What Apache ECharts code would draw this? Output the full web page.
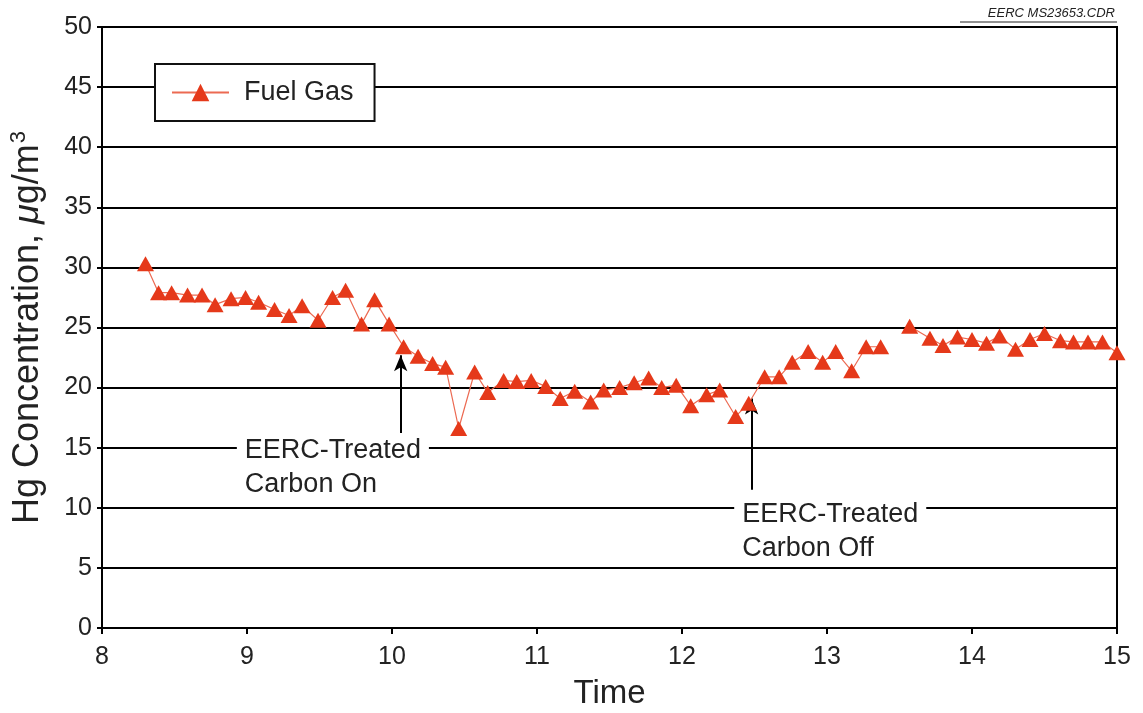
<!DOCTYPE html>
<html><head><meta charset="utf-8">
<script src="https://cdn.jsdelivr.net/npm/echarts@6/dist/echarts.min.js"></script>
<style>html,body{margin:0;padding:0;background:#fff}#c{width:1143px;height:713px}</style>
</head><body><div id="c"></div>
<script>
const timeValues = [8.30,8.39,8.48,8.59,8.69,8.78,8.89,8.99,9.08,9.19,9.29,9.38,9.49,9.59,9.68,9.79,9.88,9.98,
  10.08,10.18,10.28,10.37,10.46,10.57,10.66,10.77,10.86,10.96,11.06,11.16,11.26,11.37,11.46,11.57,11.67,11.77,11.86,11.96,
  12.06,12.17,12.26,12.37,12.46,12.57,12.67,12.76,12.87,12.97,13.06,13.17,13.27,13.37,13.47,
  13.57,13.71,13.80,13.90,14.00,14.10,14.19,14.30,14.40,14.50,14.61,14.70,14.80,14.90,15.00];
const fuelGas = [30.3,27.9,27.9,27.7,27.7,26.9,27.4,27.5,27.1,26.5,26.0,26.8,25.6,27.5,28.1,25.3,27.3,25.3,
  23.4,22.6,22.0,21.7,16.6,21.3,19.6,20.6,20.5,20.6,20.1,19.1,19.7,18.8,19.8,20.0,20.4,20.8,20.0,20.2,
  18.5,19.4,19.8,17.6,18.7,20.9,20.9,22.1,23.0,22.1,23.0,21.4,23.4,23.4,null,
  25.1,24.1,23.5,24.2,24.0,23.7,24.3,23.2,24.0,24.5,23.9,23.8,23.8,23.8,22.9];
const yTicks = [0,5,10,15,20,25,30,35,40,45,50];
const xTicks = [8,9,10,11,12,13,14,15];
const annotations = [
  {text: 'EERC-Treated\nCarbon On', arrowX: 10.06, arrowFrom: 16.1, arrowTo: 22.7, textX: 8.93, textY: 14.8},
  {text: 'EERC-Treated\nCarbon Off', arrowX: 12.48, arrowFrom: 11.5, arrowTo: 19.1, textX: 12.36, textY: 9.4}
];

const FONT = 'Liberation Sans, Arial, Helvetica, sans-serif';
const RED = '#e5391a';
const chart = echarts.init(document.getElementById('c'));
const pts = timeValues.map((t, i) => [t, fuelGas[i]]);

const option = {
  animation: false,
  backgroundColor: '#fff',
  grid: {left: 102, right: 26, top: 27, bottom: 85, containLabel: false, outerBoundsMode: 'none',
    show: true, borderColor: '#000', borderWidth: 2, backgroundColor: 'transparent'},
  legend: {
    left: 155, top: 64,
    padding: [15, 21, 15, 16],
    backgroundColor: '#fff', borderColor: '#111', borderWidth: 2,
    itemWidth: 57, itemHeight: 22, itemGap: 10,
    textStyle: {fontFamily: FONT, fontSize: 27, color: '#222', padding: [0, 0, 0, 10]},
    data: ['Fuel Gas']
  },
  xAxis: {
    type: 'value', min: 8, max: 15, interval: 1,
    name: 'Time', nameLocation: 'middle', nameGap: 49,
    nameTextStyle: {fontFamily: FONT, fontSize: 33, color: '#222'},
    axisLine: {show: true, lineStyle: {color: '#000', width: 2}},
    axisTick: {show: true, inside: false, length: 6, lineStyle: {color: '#000', width: 2}},
    axisLabel: {fontFamily: FONT, fontSize: 25, color: '#222', margin: 17},
    splitLine: {show: false}
  },
  yAxis: {
    type: 'value', min: 0, max: 50, interval: 5,
    name: '{a|Hg Concentration, }{mu|μ}{a|g/m}{sup|3}', nameLocation: 'middle', nameGap: 54,
    nameTextStyle: {
      fontFamily: FONT, fontSize: 36, color: '#222',
      rich: {
        a: {fontFamily: FONT, fontSize: 36, color: '#222'},
        mu: {fontFamily: FONT, fontSize: 36, color: '#222', fontStyle: 'italic'},
        sup: {fontFamily: FONT, fontSize: 22, color: '#222', padding: [0, 0, 18, 1]}
      }
    },
    axisLine: {show: true, lineStyle: {color: '#000', width: 2}},
    axisTick: {show: true, inside: false, length: 5, lineStyle: {color: '#000', width: 2}},
    axisLabel: {fontFamily: FONT, fontSize: 25, color: '#222', margin: 10},
    splitLine: {show: true, lineStyle: {color: '#000', width: 2}}
  },
  series: [{
    name: 'Fuel Gas', type: 'line', data: pts, connectNulls: false,
    symbol: 'triangle', symbolSize: [17, 15],
    itemStyle: {color: RED, borderColor: RED, borderWidth: 0},
    lineStyle: {color: '#ec6a52', width: 1.2},
    z: 5,
    markLine: {
      silent: true, symbol: ['none', 'arrow'], symbolSize: [10, 16],
      label: {show: false},
      lineStyle: {color: '#000', width: 2, type: 'solid'},
      data: annotations.map(a => [{coord: [a.arrowX, a.arrowFrom]}, {coord: [a.arrowX, a.arrowTo]}])
    }
  }]
};
chart.setOption(option);

const g = [];
annotations.forEach(a => {
  const p = chart.convertToPixel({gridIndex: 0}, [a.textX, a.textY]);
  g.push({
    type: 'text', left: p[0], top: p[1] - 17, z: 10,
    style: {text: a.text, fontFamily: FONT, fontSize: 27, fill: '#222', lineHeight: 34,
      backgroundColor: '#fff', padding: [0, 8, 0, 8]}
  });
});
g.push({type: 'text', right: 28, top: 7, style: {text: 'EERC MS23653.CDR', fontFamily: FONT, fontSize: 13, fontStyle: 'italic', fill: '#222'}});
g.push({type: 'line', shape: {x1: 960, y1: 22, x2: 1117, y2: 22}, style: {stroke: '#222', lineWidth: 1}});
chart.setOption({graphic: g});
</script></body></html>
